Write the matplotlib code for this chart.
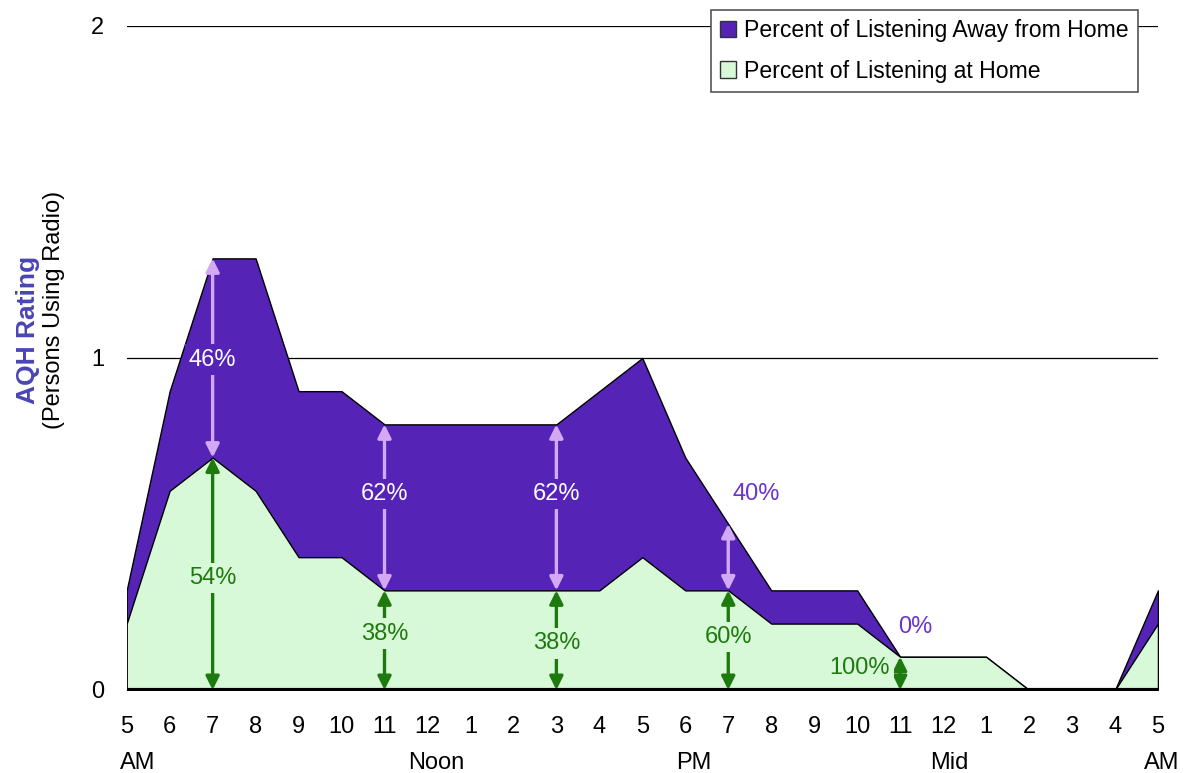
import numpy as np
import matplotlib.pyplot as plt
from matplotlib.patches import Patch

plt.rcParams['font.family'] = ['Liberation Sans', 'DejaVu Sans']

# hours from 5 AM (0) to 5 AM next day (24)
hours = list(range(25))
hour_labels = ['5', '6', '7', '8', '9', '10', '11', '12', '1', '2', '3', '4', '5',
               '6', '7', '8', '9', '10', '11', '12', '1', '2', '3', '4', '5']
total = [0.3, 0.9, 1.3, 1.3, 0.9, 0.9, 0.8, 0.8, 0.8, 0.8, 0.8, 0.9, 1.0,
         0.7, 0.5, 0.3, 0.3, 0.3, 0.1, 0.1, 0.1, 0.0, 0.0, 0.0, 0.3]
home = [0.2, 0.6, 0.7, 0.6, 0.4, 0.4, 0.3, 0.3, 0.3, 0.3, 0.3, 0.3, 0.4,
        0.3, 0.3, 0.2, 0.2, 0.2, 0.1, 0.1, 0.1, 0.0, 0.0, 0.0, 0.2]

# annotated hours: (x, away %, home %)
ann_x = [2, 6, 10, 14, 18]
away_pct = ['46%', '62%', '62%', '40%', '0%']
home_pct = ['54%', '38%', '38%', '60%', '100%']

purple = '#5523b5'
light_green = '#d7f9d7'
arrow_purple = '#d3a8f5'
text_purple = '#6a35cc'
green = '#1e7a0e'
fs = 17

fig = plt.figure(figsize=(11.84, 7.73), dpi=100)
ax = fig.add_axes([0.107, 0.1074, 0.871, 0.859])

ax.fill_between(hours, 0, total, facecolor=purple, edgecolor='black', lw=1, zorder=2)
ax.fill_between(hours, 0, home, facecolor=light_green, edgecolor='black', lw=1, zorder=3)

for yv in [1, 2]:
    ax.axhline(yv, color='black', lw=0.9, zorder=1, xmin=-0.003)
ax.axhline(0, color='black', lw=3, zorder=5)

ax.set_xlim(0, 24)
ax.set_ylim(0, 2)
for s in ax.spines.values():
    s.set_visible(False)
ax.set_yticks([0, 1, 2])
ax.set_yticklabels(['0', '1', '2'], fontsize=fs)
ax.set_xticks(hours)
ax.set_xticklabels(hour_labels, fontsize=fs)
ax.tick_params(length=0, pad=19)
ax.tick_params(axis='y', pad=16)

# second row of x labels
trans = ax.get_xaxis_transform()
row2 = -0.11
ax.text(-0.15, row2, 'AM', transform=trans, ha='left', va='center', fontsize=fs)
ax.text(7.2, row2, 'Noon', transform=trans, ha='center', va='center', fontsize=fs)
ax.text(13.2, row2, 'PM', transform=trans, ha='center', va='center', fontsize=fs)
ax.text(19.15, row2, 'Mid', transform=trans, ha='center', va='center', fontsize=fs)
ax.text(24.5, row2, 'AM', transform=trans, ha='right', va='center', fontsize=fs)

# arrows
def darrow(x, y0, y1, color):
    ax.annotate('', xy=(x, y1), xytext=(x, y0),
                arrowprops=dict(arrowstyle='<|-|>', color=color, lw=2.4,
                                mutation_scale=20, shrinkA=0, shrinkB=0),
                zorder=6)

for i, x in enumerate(ann_x):
    darrow(x, total[x], home[x], arrow_purple if total[x] > home[x] else green)
    darrow(x, home[x], 0, green)

away_pos = [(2, 0.995), (6, 0.59), (10, 0.59), (14.65, 0.59), (18.35, 0.19)]
home_pos = [(2, 0.337), (6, 0.17), (10, 0.14), (14, 0.16), (17.05, 0.065)]
for i in range(5):
    x, y = away_pos[i]
    if i < 3:
        ax.text(x, y, away_pct[i], ha='center', va='center', fontsize=fs, color='white',
                zorder=7, bbox=dict(facecolor=purple, edgecolor='none', pad=3))
    else:
        ax.text(x, y, away_pct[i], ha='center', va='center', fontsize=fs,
                color=text_purple, zorder=7)
    x, y = home_pos[i]
    ax.text(x, y, home_pct[i], ha='center', va='center', fontsize=fs, color=green,
            zorder=7, bbox=dict(facecolor=light_green, edgecolor='none', pad=3))

# y label
fig.text(0.024, 0.573, 'AQH Rating', rotation=90, ha='center', va='center',
         fontsize=19, fontweight='bold', color='#4a45b5')
fig.text(0.046, 0.599, '(Persons Using Radio)', rotation=90, ha='center', va='center',
         fontsize=fs)

handles = [Patch(facecolor=purple, edgecolor='#333333', label='Percent of Listening Away from Home'),
           Patch(facecolor=light_green, edgecolor='#333333', label='Percent of Listening at Home')]
leg = ax.legend(handles=handles, loc='upper right', bbox_to_anchor=(0.9806, 1.024),
                borderaxespad=0, fontsize=16.6, frameon=True, fancybox=False, framealpha=1,
                edgecolor='#555555', handlelength=0.7, handleheight=0.7,
                handletextpad=0.35, borderpad=0.4, labelspacing=0.75)
leg.get_frame().set_linewidth(1.2)
leg.set_zorder(10)

fig.savefig('out.png', dpi=100)
